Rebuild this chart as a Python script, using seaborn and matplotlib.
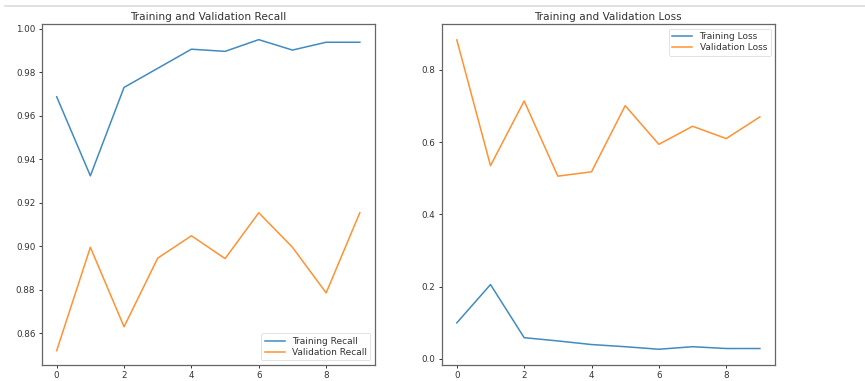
import matplotlib
matplotlib.use("Agg")
import matplotlib.pyplot as plt
from matplotlib.lines import Line2D
import seaborn as sns
import pandas as pd

epochs = list(range(10))
train_recall = [0.9688, 0.9324, 0.9731, 0.9819, 0.9907, 0.9897, 0.9951, 0.9903, 0.9939, 0.9939]
val_recall = [0.8519, 0.8995, 0.8629, 0.8945, 0.9048, 0.8943, 0.9154, 0.8995, 0.8785, 0.9154]
train_loss = [0.100, 0.206, 0.059, 0.050, 0.040, 0.034, 0.027, 0.034, 0.029, 0.029]
val_loss = [0.883, 0.535, 0.714, 0.506, 0.518, 0.701, 0.594, 0.644, 0.610, 0.670]

recall_df = pd.DataFrame({
    "epoch": epochs * 2,
    "value": train_recall + val_recall,
    "series": ["Training Recall"] * 10 + ["Validation Recall"] * 10,
})
loss_df = pd.DataFrame({
    "epoch": epochs * 2,
    "value": train_loss + val_loss,
    "series": ["Training Loss"] * 10 + ["Validation Loss"] * 10,
})

palette = ["#1f77b4", "#ff7f0e"]
fs = 6.3

fig = plt.figure(figsize=(8.65, 3.81), dpi=100)
ax1 = fig.add_axes([0.048, 0.042, 0.3855, 0.895])
ax2 = fig.add_axes([0.5106, 0.042, 0.3854, 0.895])

# notebook cell separator across the top
fig.add_artist(Line2D([0.006, 1.0], [0.984, 0.984], transform=fig.transFigure,
                      color="#dcdcdc", lw=1.2))

for ax, df, title, loc in [
    (ax1, recall_df, "Training and Validation Recall", "lower right"),
    (ax2, loss_df, "Training and Validation Loss", "upper right"),
]:
    sns.lineplot(data=df, x="epoch", y="value", hue="series", palette=palette,
                 ax=ax, linewidth=1.1, alpha=0.85)
    ax.set_title(title, fontsize=7.6, pad=3, color="#333333")
    ax.set_xlabel("")
    ax.set_ylabel("")
    ax.set_xticks([0, 2, 4, 6, 8])
    ax.tick_params(labelsize=fs, colors="#333333", length=2.5, width=0.7, pad=2)
    for s in ax.spines.values():
        s.set_color("#666666")
        s.set_linewidth(0.9)
    leg = ax.legend(loc=loc, fontsize=6.5, frameon=True, handlelength=2.2,
                    borderpad=0.4, labelspacing=0.2)
    leg.get_frame().set_linewidth(0.5)
    for t in leg.get_texts():
        t.set_color("#333333")

ax1.set_xlim(-0.45, 9.45)
ax1.set_ylim(0.8453, 1.0023)
ax1.set_yticks([0.86, 0.88, 0.90, 0.92, 0.94, 0.96, 0.98, 1.00])
ax2.set_xlim(-0.45, 9.45)
ax2.set_ylim(-0.0166, 0.927)
ax2.set_yticks([0.0, 0.2, 0.4, 0.6, 0.8])

fig.savefig("out.png", dpi=100)
